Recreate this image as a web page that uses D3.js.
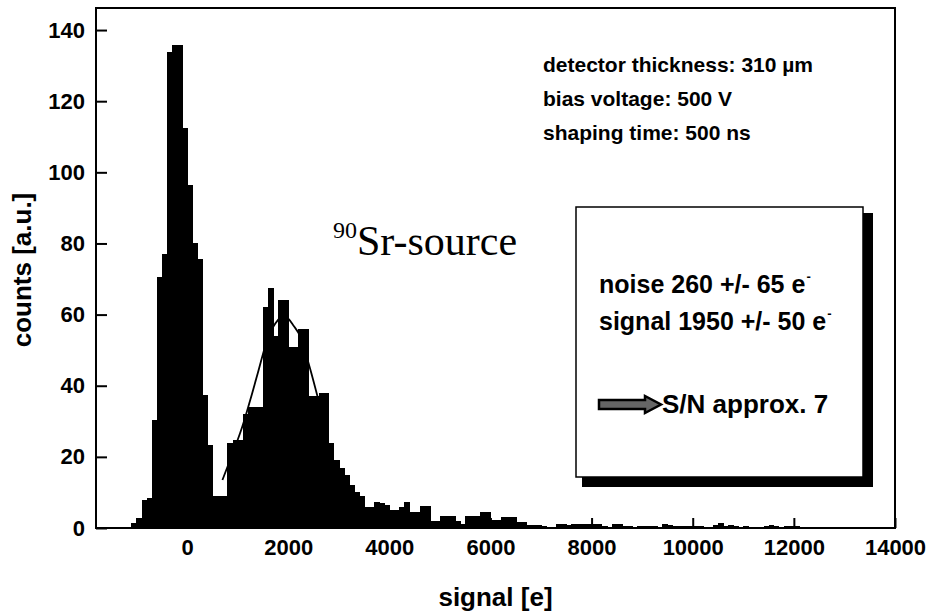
<!DOCTYPE html>
<html>
<head>
<meta charset="utf-8">
<script src="https://cdn.jsdelivr.net/npm/d3@7"></script>
<style>
body { margin: 0; background: #fff; }
svg { display: block; }
text { font-family: "Liberation Sans", Arial, sans-serif; font-weight: bold; fill: #000; }
</style>
</head>
<body>
<div id="body"></div>
<script>
// histogram, 100 e bins starting at -1100 e
var binStart = -1100;
var binWidth = 100;
var counts = [
  1.5, 2.8, 8, 8.4, 30.4, 70.5, 77, 133.8, 135.8, 135.8,      // -1100 .. -200
  112.5, 96.4, 80, 75.6, 37.4, 23.3, 9, 9, 9, 24,            // -100 .. 800
  24.7, 24.7, 32, 34, 34, 34, 62, 67.5, 54, 64,              // 900 .. 1800
  64, 51, 51, 56, 56, 37, 37, 38, 38, 24,                    // 1900 .. 2800
  19, 17, 15, 12, 10, 9, 6, 6, 7.3, 7,                       // 2900 .. 3800
  6.5, 5, 5, 6, 7.3, 4.5, 4.5, 6.2, 6.2, 2,                  // 3900 .. 4800
  2, 3.4, 3.4, 3.4, 2, 1.2, 3.4, 3.4, 3.4, 4.5,              // 4900 .. 5800
  4.5, 2.3, 2.3, 3, 3, 3, 1.8, 1.8, 0.9, 0.9,                // 5900 .. 6800
  0.9, 0.6, 0.3, 0.3, 1.2, 1.2, 0.9, 1, 1, 1,                // 6900 .. 7800
  1, 1.1, 1.1, 0.5, 0.3, 1.1, 1.1, 0.5, 0.5, 0.3,            // 7900 .. 8800
  0.5, 0.5, 0.5, 0.5, 0.3, 1, 0.8, 0.5, 0.5, 0.5,            // 8900 .. 9800
  0.6, 0.5, 0.5, 0.3, 0, 0.8, 1.3, 0.5, 0.8, 0.5,            // 9900 .. 10800
  0.4, 0.5, 0.3, 0, 0, 0.5, 0.8, 0.5, 0, 0.5,                // 10900 .. 11800
  0.5, 0.5, 0.3, 0, 0.3, 0, 0, 0, 0, 0.3,                    // 11900 .. 12800
  0.3, 0.3, 0, 0, 0, 0, 0, 0, 0, 0.3,                        // 12900 .. 13800
  0.3                                                        // 13900
];

// fit curve over the signal peak
var fitSignal = [700, 1050, 1250, 1400, 1600, 1800, 1950, 2100, 2250, 2430, 2580];
var fitCounts = [13.5, 26.7, 36, 43.6, 53.5, 58.5, 59.5, 57, 53.5, 45, 37];

var xTicks = [0, 2000, 4000, 6000, 8000, 10000, 12000, 14000];
var xMinor = [1000, 3000, 5000, 7000, 9000, 11000, 13000];
var yTicks = [0, 20, 40, 60, 80, 100, 120, 140];
var yMinor = [10, 30, 50, 70, 90, 110, 130];

var infoLines = ["detector thickness: 310 \u00b5m", "bias voltage: 500 V", "shaping time: 500 ns"];
var resultLines = ["noise 260 +/- 65 e", "signal 1950 +/- 50 e"];
var ratioText = "S/N approx. 7";

window.onload = function(){
    var svg = d3.select("#body").append("svg")
        .attr("width", 945)
        .attr("height", 614);

    var x = d3.scaleLinear().domain([-1800, 14000]).range([96, 895]);
    var y = d3.scaleLinear().domain([0, 146.2]).range([528, 8]);

    // bars
    svg.append("g").attr("shape-rendering", "crispEdges").selectAll("rect")
        .data(counts)
        .enter().append("rect")
        .attr("x", function(d, i){ return x(binStart + i * binWidth); })
        .attr("y", function(d){ return y(d); })
        .attr("width", function(d, i){ return x(binStart + (i + 1) * binWidth) - x(binStart + i * binWidth) + 0.8; })
        .attr("height", function(d){ return y(0) - y(d); })
        .attr("fill", "#000");

    // fit line
    var line = d3.line()
        .x(function(d){ return x(d[0]); })
        .y(function(d){ return y(d[1]); })
        .curve(d3.curveCardinal);
    svg.append("path")
        .datum(d3.zip(fitSignal, fitCounts))
        .attr("d", line)
        .attr("fill", "none")
        .attr("stroke", "#000")
        .attr("stroke-width", 1.8);

    // axes, ticks pointing inward
    var gy = svg.append("g").attr("transform", "translate(" + x.range()[0] + ",0)");
    gy.call(d3.axisLeft(y).tickValues(yMinor).tickSize(-6).tickFormat(""));
    gy.call(d3.axisLeft(y).tickValues(yTicks).tickSize(-11).tickPadding(11));
    gy.selectAll(".domain").remove();
    gy.selectAll("line").attr("stroke-width", 2);
    gy.selectAll("text").attr("font-size", 22).attr("font-family", "Liberation Sans").attr("font-weight", "bold");

    var gx = svg.append("g").attr("transform", "translate(0," + y(0) + ")");
    gx.call(d3.axisBottom(x).tickValues(xMinor).tickSize(-5).tickFormat(""));
    gx.call(d3.axisBottom(x).tickValues(xTicks).tickSize(-10).tickPadding(11).tickFormat(d3.format("d")));
    gx.selectAll(".domain").remove();
    gx.selectAll("line").attr("stroke-width", 2);
    gx.selectAll("text").attr("font-size", 22).attr("font-family", "Liberation Sans").attr("font-weight", "bold");

    // frame
    svg.append("rect")
        .attr("x", x.range()[0]).attr("y", y.range()[1])
        .attr("width", x.range()[1] - x.range()[0])
        .attr("height", y.range()[0] - y.range()[1])
        .attr("fill", "none").attr("stroke", "#000").attr("stroke-width", 2);

    // axis titles
    svg.append("text")
        .attr("x", (x.range()[0] + x.range()[1]) / 2)
        .attr("y", 606)
        .attr("text-anchor", "middle")
        .attr("font-size", 26)
        .text("signal [e]");
    svg.append("text")
        .attr("transform", "translate(31,270) rotate(-90)")
        .attr("text-anchor", "middle")
        .attr("font-size", 26)
        .text("counts [a.u.]");

    // run conditions
    svg.append("g").selectAll("text")
        .data(infoLines)
        .enter().append("text")
        .attr("x", 543)
        .attr("y", function(d, i){ return 72 + i * 34; })
        .attr("font-size", 21)
        .text(function(d){ return d; });

    // source label
    var src = svg.append("text")
        .attr("x", 333).attr("y", 255)
        .style("font-family", "'Liberation Serif', 'Times New Roman', serif")
        .style("font-weight", "normal");
    src.append("tspan").attr("font-size", 24).attr("dy", -17).text("90");
    src.append("tspan").attr("font-size", 42).attr("dy", 17).text("Sr-source");

    // results box with drop shadow
    svg.append("rect")
        .attr("x", 582).attr("y", 213).attr("width", 291).attr("height", 274)
        .attr("fill", "#000");
    svg.append("rect")
        .attr("x", 576).attr("y", 207).attr("width", 287).attr("height", 270)
        .attr("fill", "#fff").attr("stroke", "#000").attr("stroke-width", 1.5);

    var res = svg.append("g").selectAll("text")
        .data(resultLines)
        .enter().append("text")
        .attr("x", 599)
        .attr("y", function(d, i){ return 293 + i * 37; })
        .attr("font-size", 25);
    res.append("tspan").text(function(d){ return d; });
    res.append("tspan").attr("font-size", 13).attr("dy", -12).attr("dx", 1).text("-");

    svg.append("path")
        .attr("d", "M599,400 L645,400 L645,396 L661,404.5 L645,413 L645,409 L599,409 Z")
        .attr("fill", "#666").attr("stroke", "#000").attr("stroke-width", 2.5)
        .attr("stroke-linejoin", "miter");
    svg.append("text")
        .attr("x", 662).attr("y", 413)
        .attr("font-size", 26)
        .text(ratioText);
};
</script>
</body>
</html>
